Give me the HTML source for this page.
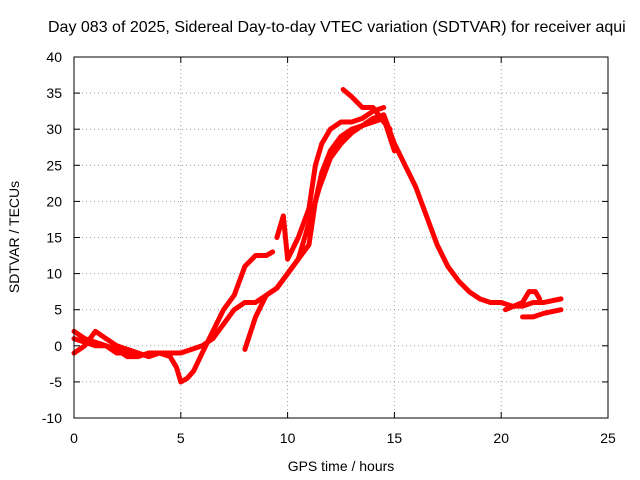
<!DOCTYPE html>
<html><head><meta charset="utf-8"><style>
body{margin:0;background:#fff}
svg{display:block;font-family:"Liberation Sans",sans-serif}
</style></head><body>
<svg id="chart" width="640" height="480">
<text x="48" y="32" font-size="16">Day 083 of 2025, Sidereal Day-to-day VTEC variation (SDTVAR) for receiver aqui</text>
<g id="grid"></g>
<g id="ticks"></g>
<g id="series"></g>
<rect x="74" y="57" width="534" height="361" fill="none" stroke="#000"/>
<text x="341" y="471" font-size="14" text-anchor="middle">GPS time / hours</text>
<text transform="translate(19,237) rotate(-90)" font-size="14" text-anchor="middle">SDTVAR / TECUs</text>
</svg>
<script>
const xTicks=[0,5,10,15,20,25];
const yTicks=[-10,-5,0,5,10,15,20,25,30,35,40];
const tA=[0,0.5,1,1.5,2,2.5,3,3.5,4,4.5,5,5.5,6,6.5,7,7.5,8,8.5,9,9.5,10,10.5,11,11.5,12,12.5,13,13.5,14,14.5,15,15.5,16,16.5,17,17.5,18,18.5,19,19.5,20,20.5,21,21.5,22,22.8];
const vA=[1,0.5,0,0,-1,-1,-1,-1.5,-1,-1,-1,-0.5,0,1,3,5,6,6,7,8,10,12,17,22,26,28,29.5,30.5,31.5,32,28,25,22,18,14,11,9,7.5,6.5,6,6,5.5,5.5,6,6,6.5];
const tB=[0,0.5,1,1.5,2,2.5,3,3.5,4,4.5,4.8,5,5.3,5.6,6,6.5,7,7.5,8,8.5,9,9.3];
const vB=[2,1,0.5,0,-0.5,-1.5,-1.5,-1,-1,-1.5,-3,-5,-4.5,-3.5,-1,2,5,7,11,12.5,12.5,13];
const tC=[8,8.5,9,9.5,10,10.5,11,11.3,11.6,12,12.5,13,13.5,14,14.5,15];
const vC=[-0.5,4,7,8,10,12,14,20,24,27,29,30,30.5,31,31.5,27];
const tD=[9.5,9.8,10,10.5,11,11.3,11.6,12,12.5,13,13.5,14,14.5];
const vD=[15,18,12,15,19,25,28,30,31,31,31.5,32.5,33];
const tE=[12.6,13,13.5,14,14.5,14.8];
const vE=[35.5,34.5,33,33,31,30];
const tF=[20.2,20.6,21,21.3,21.6,21.8];
const vF=[5,5.5,6,7.5,7.5,6.5];
const tG=[0,0.5,1,1.5,2,2.5,3];
const vG=[-1,0,2,1,0,-0.5,-1];
const tH=[21,21.5,22,22.8];
const vH=[4,4,4.5,5];
const xs=v=>74+v*534/25, ys=v=>418-(v+10)*361/50;
const NS="http://www.w3.org/2000/svg";
const grid=document.getElementById('grid'),ticks=document.getElementById('ticks'),ser=document.getElementById('series');
function mk(tag,at,parent){const e=document.createElementNS(NS,tag);for(const k in at)e.setAttribute(k,at[k]);parent.appendChild(e);return e;}
xTicks.forEach(v=>{const x=xs(v);
 if(v>0&&v<25){const g=mk('line',{x1:x,x2:x,y1:57,y2:418,stroke:'#a0a0a0','stroke-dasharray':'1,3'},grid);
 
 }
 mk('line',{x1:x,x2:x,y1:418,y2:412,stroke:'#000'},ticks);mk('line',{x1:x,x2:x,y1:57,y2:63,stroke:'#000'},ticks);
 const t=mk('text',{x:x,y:443,'font-size':14,'text-anchor':'middle'},ticks);t.textContent=v;
 
 });
yTicks.forEach(v=>{const y=ys(v);
 if(v>-10&&v<40){const g=mk('line',{x1:74,x2:608,y1:y,y2:y,stroke:'#a0a0a0','stroke-dasharray':'1,3'},grid);
 
 }
 mk('line',{x1:74,x2:80,y1:y,y2:y,stroke:'#000'},ticks);mk('line',{x1:608,x2:602,y1:y,y2:y,stroke:'#000'},ticks);
 const t=mk('text',{x:62,y:y+5,'font-size':14,'text-anchor':'end'},ticks);t.textContent=v;
 
 });
[[tA,vA],[tB,vB],[tC,vC],[tD,vD],[tE,vE],[tF,vF],[tG,vG],[tH,vH]].forEach(([t,v],i)=>{
 const p=mk('polyline',{points:t.map((x,j)=>xs(x)+','+ys(v[j])).join(' '),fill:'none',stroke:'#f00','stroke-width':5,'stroke-linejoin':'round','stroke-linecap':'round'},ser);
 
 });
</script>
</body></html>
